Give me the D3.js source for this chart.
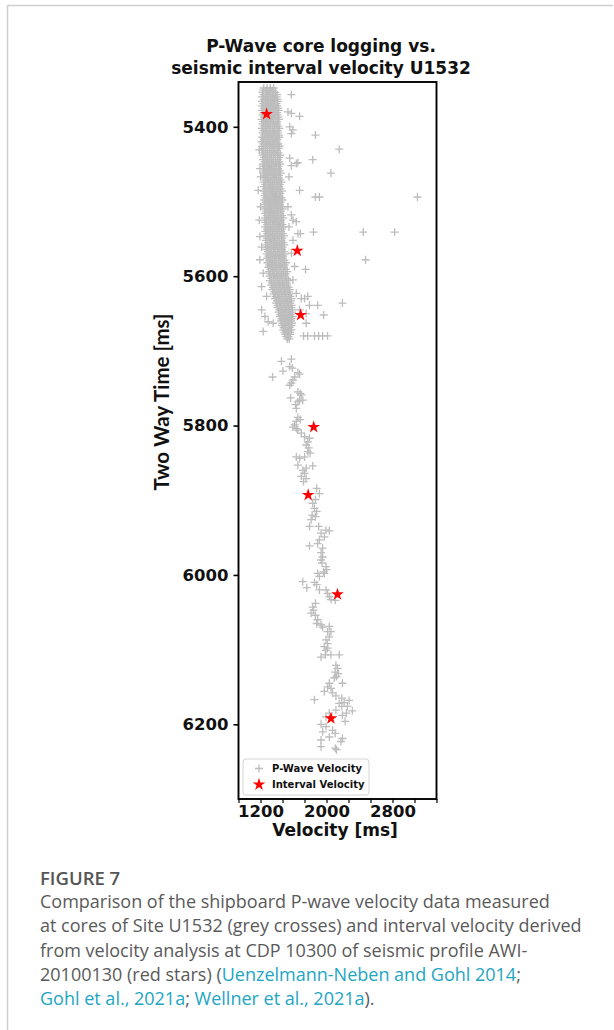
<!DOCTYPE html>
<html><head><meta charset="utf-8">
<script src="https://cdn.jsdelivr.net/npm/d3@7"></script>
<style>
html,body{margin:0;padding:0;background:#fff;}
svg{display:block;}
</style></head><body>
<svg id="c" width="614" height="1030"></svg>
<script>
const titleLines = ["P-Wave core logging vs.", "seismic interval velocity U1532"];
const xLabel = "Velocity [ms]";
const yLabel = "Two Way Time [ms]";
const yTickValues = [5400, 5600, 5800, 6000, 6200];
const xTickValues = [933.33, 1200, 1466.67, 1733.33, 2000, 2266.67, 2533.33, 2800, 3066.67, 3333.33];
const xTickLabels = ["1200", "2000", "2800"];
const xDomain = [933.33, 3333.33];
const yDomain = [5340, 6300];
const legendLabels = ["P-Wave Velocity", "Interval Velocity"];

// interval velocity (red stars)
const intervalVelocity = [1274, 1646, 1686, 1845, 1778, 2133, 2054];
const intervalTwt = [5383, 5566, 5652, 5802, 5893, 6026, 6192];

// dense core logging: [twt, velocities...]
const coreRows = [
[5348,1240,1280,1320,1360],
[5351,1232,1272,1312,1352],
[5354,1225,1265,1300,1340,1380],
[5357,1240,1282,1320,1362,1400],
[5360,1220,1260,1300,1345,1395],
[5363,1238,1280,1322,1368,1405],
[5366,1215,1255,1295,1335,1375,1410],
[5369,1236,1276,1318,1358,1395],
[5372,1220,1262,1305,1350,1400],
[5375,1240,1284,1328,1375,1415],
[5378,1218,1258,1298,1340,1385,1420],
[5381,1238,1280,1320,1362,1402],
[5384,1225,1268,1310,1355,1405],
[5387,1242,1288,1332,1380,1418],
[5390,1215,1255,1295,1340,1380,1425],
[5393,1235,1275,1318,1360,1402],
[5396,1222,1262,1305,1350,1400],
[5399,1240,1282,1325,1372,1415],
[5402,1218,1258,1300,1345,1390,1430],
[5405,1238,1280,1322,1368,1410],
[5408,1225,1270,1315,1360,1410],
[5411,1245,1292,1338,1385,1425],
[5414,1220,1260,1300,1340,1385,1425],
[5417,1238,1280,1320,1362,1405],
[5420,1215,1258,1302,1348,1395],
[5423,1235,1280,1325,1372,1415],
[5426,1222,1265,1308,1352,1398,1432],
[5429,1240,1285,1330,1375,1420],
[5432,1218,1260,1305,1350,1400],
[5435,1238,1282,1328,1375,1418],
[5438,1225,1265,1310,1355,1405,1440],
[5441,1245,1288,1332,1380,1425],
[5444,1230,1272,1315,1360,1410],
[5447,1250,1292,1338,1385,1428],
[5450,1228,1268,1310,1352,1395,1440],
[5453,1248,1290,1332,1375,1418],
[5456,1235,1278,1320,1365,1415],
[5459,1255,1298,1342,1390,1432],
[5462,1232,1272,1315,1358,1400,1445],
[5465,1252,1295,1338,1380,1425],
[5468,1240,1282,1325,1370,1420],
[5471,1260,1302,1348,1395,1440],
[5474,1238,1280,1322,1365,1410,1455],
[5477,1258,1300,1345,1390,1435],
[5480,1245,1288,1330,1375,1425],
[5483,1265,1310,1352,1400,1445],
[5486,1240,1282,1325,1368,1412,1460],
[5489,1262,1305,1348,1392,1438],
[5492,1248,1290,1335,1380,1430],
[5495,1268,1312,1358,1405,1450],
[5498,1245,1288,1330,1372,1418,1465],
[5501,1265,1310,1352,1396,1442],
[5504,1250,1295,1340,1385,1435],
[5507,1272,1318,1362,1410,1455],
[5510,1248,1290,1332,1376,1420,1470],
[5513,1270,1312,1355,1400,1448],
[5516,1255,1300,1345,1390,1440],
[5519,1278,1322,1368,1415,1460],
[5522,1252,1295,1338,1380,1425,1475],
[5525,1272,1318,1360,1402,1452],
[5528,1258,1302,1348,1395,1445],
[5531,1280,1325,1372,1420,1465],
[5534,1255,1298,1342,1385,1430,1480],
[5537,1276,1320,1365,1408,1458],
[5540,1260,1305,1350,1398,1450],
[5543,1282,1328,1375,1425,1470],
[5546,1258,1300,1345,1390,1435,1485],
[5549,1280,1322,1368,1412,1462],
[5552,1265,1310,1355,1402,1455],
[5555,1288,1332,1378,1430,1475],
[5558,1262,1305,1350,1395,1440,1490],
[5561,1285,1328,1372,1418,1468],
[5564,1270,1315,1360,1408,1460],
[5567,1292,1338,1385,1435,1480],
[5570,1275,1318,1362,1405,1450,1495],
[5573,1298,1340,1385,1430,1475],
[5576,1282,1325,1370,1418,1470],
[5579,1305,1348,1395,1445,1490],
[5582,1285,1330,1375,1420,1465,1510],
[5585,1308,1352,1398,1442,1490],
[5588,1295,1340,1385,1432,1485],
[5591,1318,1362,1408,1458,1505],
[5594,1300,1345,1390,1435,1480,1525],
[5597,1322,1368,1412,1458,1505],
[5600,1310,1355,1400,1448,1500],
[5603,1332,1378,1425,1472,1520],
[5606,1315,1360,1405,1450,1495,1540],
[5609,1338,1382,1428,1472,1518],
[5612,1330,1375,1420,1468,1520],
[5615,1352,1398,1445,1495,1540],
[5618,1345,1390,1435,1480,1525,1555],
[5621,1368,1412,1458,1502,1545],
[5624,1360,1405,1450,1498,1545],
[5627,1382,1428,1472,1520,1562],
[5630,1375,1420,1462,1505,1550,1575],
[5633,1398,1440,1485,1528,1568],
[5636,1390,1432,1475,1520,1565],
[5639,1410,1452,1498,1542,1578],
[5642,1405,1448,1490,1532,1575],
[5645,1428,1470,1512,1555,1585],
[5648,1420,1460,1500,1540,1580],
[5651,1440,1480,1520,1560],
[5654,1435,1475,1515,1555,1590],
[5657,1455,1495,1535,1575],
[5660,1450,1490,1530,1570],
[5663,1468,1505,1545,1580],
[5666,1460,1500,1540,1575],
[5669,1480,1518,1555],
[5672,1475,1510,1545,1575],
[5675,1492,1525,1560],
[5678,1500,1530,1560],
[5681,1512,1540],
[5684,1525,1550]
];

// scattered core logging points: [velocity, twt]
const pwaveScatter = [
[1574,5357],[1674,5386],[1866,5411],[2154,5430],[1833,5444],[1653,5448],[1574,5452],[2054,5462],
[1674,5485],[1866,5494],[1914,5494],[3102,5494],[1593,5525],[1634,5527],[1653,5543],[1682,5543],
[1842,5541],[2445,5541],[2826,5541],[2474,5578],[1746,5591],[1773,5627],[1734,5630],[1893,5639],
[1794,5639],[2193,5636],[1965,5652],[1754,5663],[1722,5680],[1773,5680],[1854,5680],[1905,5680],
[1953,5680],[2013,5680],
[1533,5380],[1574,5382],[1554,5400],[1593,5404],[1574,5409],[1554,5442],[1634,5449],[1545,5467],
[1533,5507],[1574,5518],[1545,5534],[1593,5552],[1574,5569],[1613,5587],[1593,5605],[1634,5623],
[1694,5630],[1674,5645],[1754,5650],
[1185,5431],[1193,5456],[1202,5467],[1173,5485],[1202,5507],[1185,5525],[1193,5547],[1214,5561],
[1193,5578],[1233,5596],[1214,5614],[1274,5627],[1214,5645],[1254,5654],[1293,5661],[1233,5674],
[1353,5663],
[1454,5714],[1574,5711],[1473,5727],[1554,5721],[1586,5723],[1346,5735],[1653,5729],[1674,5731],
[1614,5735],[1593,5739],[1574,5743],[1554,5746],[1653,5755],[1682,5757],[1694,5759],[1674,5766],
[1713,5766],[1653,5768],[1626,5772],[1634,5777],[1566,5763],[1653,5789],[1682,5792],[1634,5794],
[1614,5799],[1593,5802],[1634,5804],[1653,5806],[1694,5810],[1734,5815],[1794,5817],[1773,5822],
[1754,5826],[1785,5830],[1773,5835],[1802,5837],[1734,5842],[1674,5844],[1634,5842],[1653,5853],
[1833,5854],[1754,5857],[1713,5860],[1734,5864],[1694,5868],[1754,5871],[1722,5875],[1881,5884],
[1914,5891],[1866,5899],[1833,5904],[1854,5911],[1881,5915],[1826,5920],[1866,5922],[1814,5926],
[1794,5935],[1905,5935],[1934,5944],[1994,5940],[2034,5941],[1974,5949],[1914,5953],[1893,5958],
[1794,5961],[1953,5964],[1934,5970],[1953,5976],
[1934,5980],[1946,5984],[1994,5989],[1965,5996],[1893,5998],[1914,6002],[1974,5998],[2001,5993],
[1713,6009],[1761,6017],[1854,6010],[1881,6013],[1914,6020],[1994,6020],[2013,6025],[2034,6029],
[2054,6033],[2106,6034],[1866,6038],[1833,6043],[1842,6047],[1814,6051],[1866,6054],[1893,6060],
[1881,6065],[1934,6067],[1953,6070],[2034,6069],[2013,6076],[2054,6076],[2034,6083],[1994,6087],
[2013,6092],[1974,6096],[2013,6098],[1994,6101],[1986,6107],[1934,6110],[2054,6107],[2154,6107],
[2114,6121],[2133,6125],[2106,6130],[2145,6132],[2121,6136],[2094,6138],[2193,6145],[2034,6145],
[2013,6150],[2054,6152],[1974,6156],[2073,6158],[2114,6162],[1854,6167],[2186,6165],[2214,6171],
[2154,6172],[2274,6168],[2186,6176],[2253,6176],[2313,6182],[2241,6185],[2193,6188],[2114,6181],
[2034,6185],[1994,6190],[2226,6196],[1934,6200],[1994,6203],[1953,6210],[2073,6208],[2106,6212],
[2034,6217],[2193,6219],[1934,6221],[2174,6223],[1934,6230],[2106,6232],[2121,6234]
];

const captionHead = "FIGURE 7";
const captionLines = [
  [["Comparison of the shipboard P-wave velocity data measured", false]],
  [["at cores of Site U1532 (grey crosses) and interval velocity derived", false]],
  [["from velocity analysis at CDP 10300 of seismic profile AWI-", false]],
  [["20100130 (red stars) (", false], ["Uenzelmann-Neben and Gohl 2014", true], [";", false]],
  [["Gohl et al., 2021a", true], ["; ", false], ["Wellner et al., 2021a", true], [").", false]]
];

const svg = d3.select("#c");
const x = d3.scaleLinear().domain(xDomain).range([238.5, 436.5]);
const y = d3.scaleLinear().domain(yDomain).range([82, 799]);

// page frame
svg.append("line").attr("x1", 7.5).attr("x2", 613).attr("y1", 5.5).attr("y2", 5.5)
  .attr("stroke", "#cfcfcf").attr("stroke-width", 1.5);
svg.append("line").attr("x1", 7.5).attr("x2", 7.5).attr("y1", 5).attr("y2", 1030)
  .attr("stroke", "#cfcfcf").attr("stroke-width", 1.5);

const boldFont = "'DejaVu Sans', Verdana, sans-serif";

// title
svg.append("g").selectAll("text").data(titleLines).join("text")
  .attr("x", 321).attr("y", (d, i) => 52 + i * 21.5)
  .attr("text-anchor", "middle")
  .attr("font-family", boldFont).attr("font-weight", "bold").attr("font-size", 17)
  .attr("fill", "#111").text(d => d);

const crossPath = "M-4,0H4M0,-4V4";
const crossColor = "#bdbdbd";

const plot = svg.append("g");
const corePts = [];
coreRows.forEach(r => { for (let k = 1; k < r.length; k++) corePts.push([r[k], r[0]]); });
plot.selectAll("path.core").data(corePts.concat(pwaveScatter)).join("path")
  .attr("class", "core")
  .attr("transform", d => `translate(${x(d[0])},${y(d[1])})`)
  .attr("d", crossPath).attr("fill", "none")
  .attr("stroke", crossColor).attr("stroke-width", 1.3);

const star = d3.symbol().type(d3.symbolStar).size(50);
plot.selectAll("path.star").data(intervalVelocity.map((v, i) => [v, intervalTwt[i]])).join("path")
  .attr("class", "star")
  .attr("transform", d => `translate(${x(d[0])},${y(d[1])})`)
  .attr("d", star).attr("fill", "#ff0000");

// frame
svg.append("rect").attr("x", 238.5).attr("y", 82).attr("width", 198).attr("height", 717)
  .attr("fill", "none").attr("stroke", "#000").attr("stroke-width", 1.9);

// y axis
const yAxis = d3.axisLeft(y).tickValues(yTickValues).tickSize(5).tickPadding(5).tickFormat(d3.format("d"));
const gy = svg.append("g").attr("transform", "translate(238.5,0)").call(yAxis);
gy.select(".domain").remove();
gy.selectAll(".tick line").attr("stroke", "#000").attr("stroke-width", 1.6);
gy.selectAll(".tick text").attr("font-family", boldFont).attr("font-weight", "bold")
  .attr("font-size", 16.5).attr("fill", "#111");

// x axis
const xAxis = d3.axisBottom(x).tickValues(xTickValues).tickSize(4).tickPadding(2.5)
  .tickFormat(d => { const s = String(Math.round(d)); return xTickLabels.includes(s) ? s : ""; });
const gx = svg.append("g").attr("transform", "translate(0,799)").call(xAxis);
gx.select(".domain").remove();
gx.selectAll(".tick line").attr("stroke", "#000").attr("stroke-width", 1.2);
gx.selectAll(".tick text").attr("font-family", boldFont).attr("font-weight", "bold")
  .attr("font-size", 16.5).attr("fill", "#111");

// axis labels
svg.append("text").attr("x", 335).attr("y", 835.5).attr("text-anchor", "middle")
  .attr("font-family", boldFont).attr("font-weight", "bold").attr("font-size", 17)
  .attr("fill", "#111").text(xLabel);
svg.append("text").attr("transform", "translate(169,402) rotate(-90)").attr("text-anchor", "middle")
  .attr("font-family", "Lato, 'Liberation Sans', sans-serif").attr("font-weight", "bold").attr("font-size", 20.5)
  .attr("fill", "#111").text(yLabel);

// legend
const lg = svg.append("g");
lg.append("rect").attr("x", 243).attr("y", 759).attr("width", 126).attr("height", 36).attr("rx", 3)
  .attr("fill", "#fff").attr("fill-opacity", 0.85).attr("stroke", "#d4d4d4").attr("stroke-width", 1);
lg.append("path").attr("transform", "translate(259,768.5)").attr("d", crossPath)
  .attr("stroke", crossColor).attr("stroke-width", 1.3).attr("fill", "none");
lg.append("path").attr("transform", "translate(259,784.5)").attr("d", star).attr("fill", "#ff0000");
lg.selectAll("text").data(legendLabels).join("text")
  .attr("x", 272).attr("y", (d, i) => 772 + i * 16)
  .attr("font-family", boldFont).attr("font-weight", "bold").attr("font-size", 10)
  .attr("fill", "#111").text(d => d);

// caption
svg.append("text").attr("x", 40).attr("y", 885)
  .attr("font-family", "'Open Sans', sans-serif").attr("font-weight", 600).attr("font-size", 18.5)
  .attr("fill", "#555").text(captionHead);
const cap = svg.append("g");
captionLines.forEach((segs, i) => {
  const t = cap.append("text").attr("x", 40).attr("y", 908 + i * 24.3)
    .attr("font-family", "'Open Sans', sans-serif").attr("font-size", 18).attr("fill", "#5a5a5a");
  segs.forEach(s => t.append("tspan").attr("fill", s[1] ? "#22a6c3" : "#5a5a5a").text(s[0]));
});
</script>
</body></html>
